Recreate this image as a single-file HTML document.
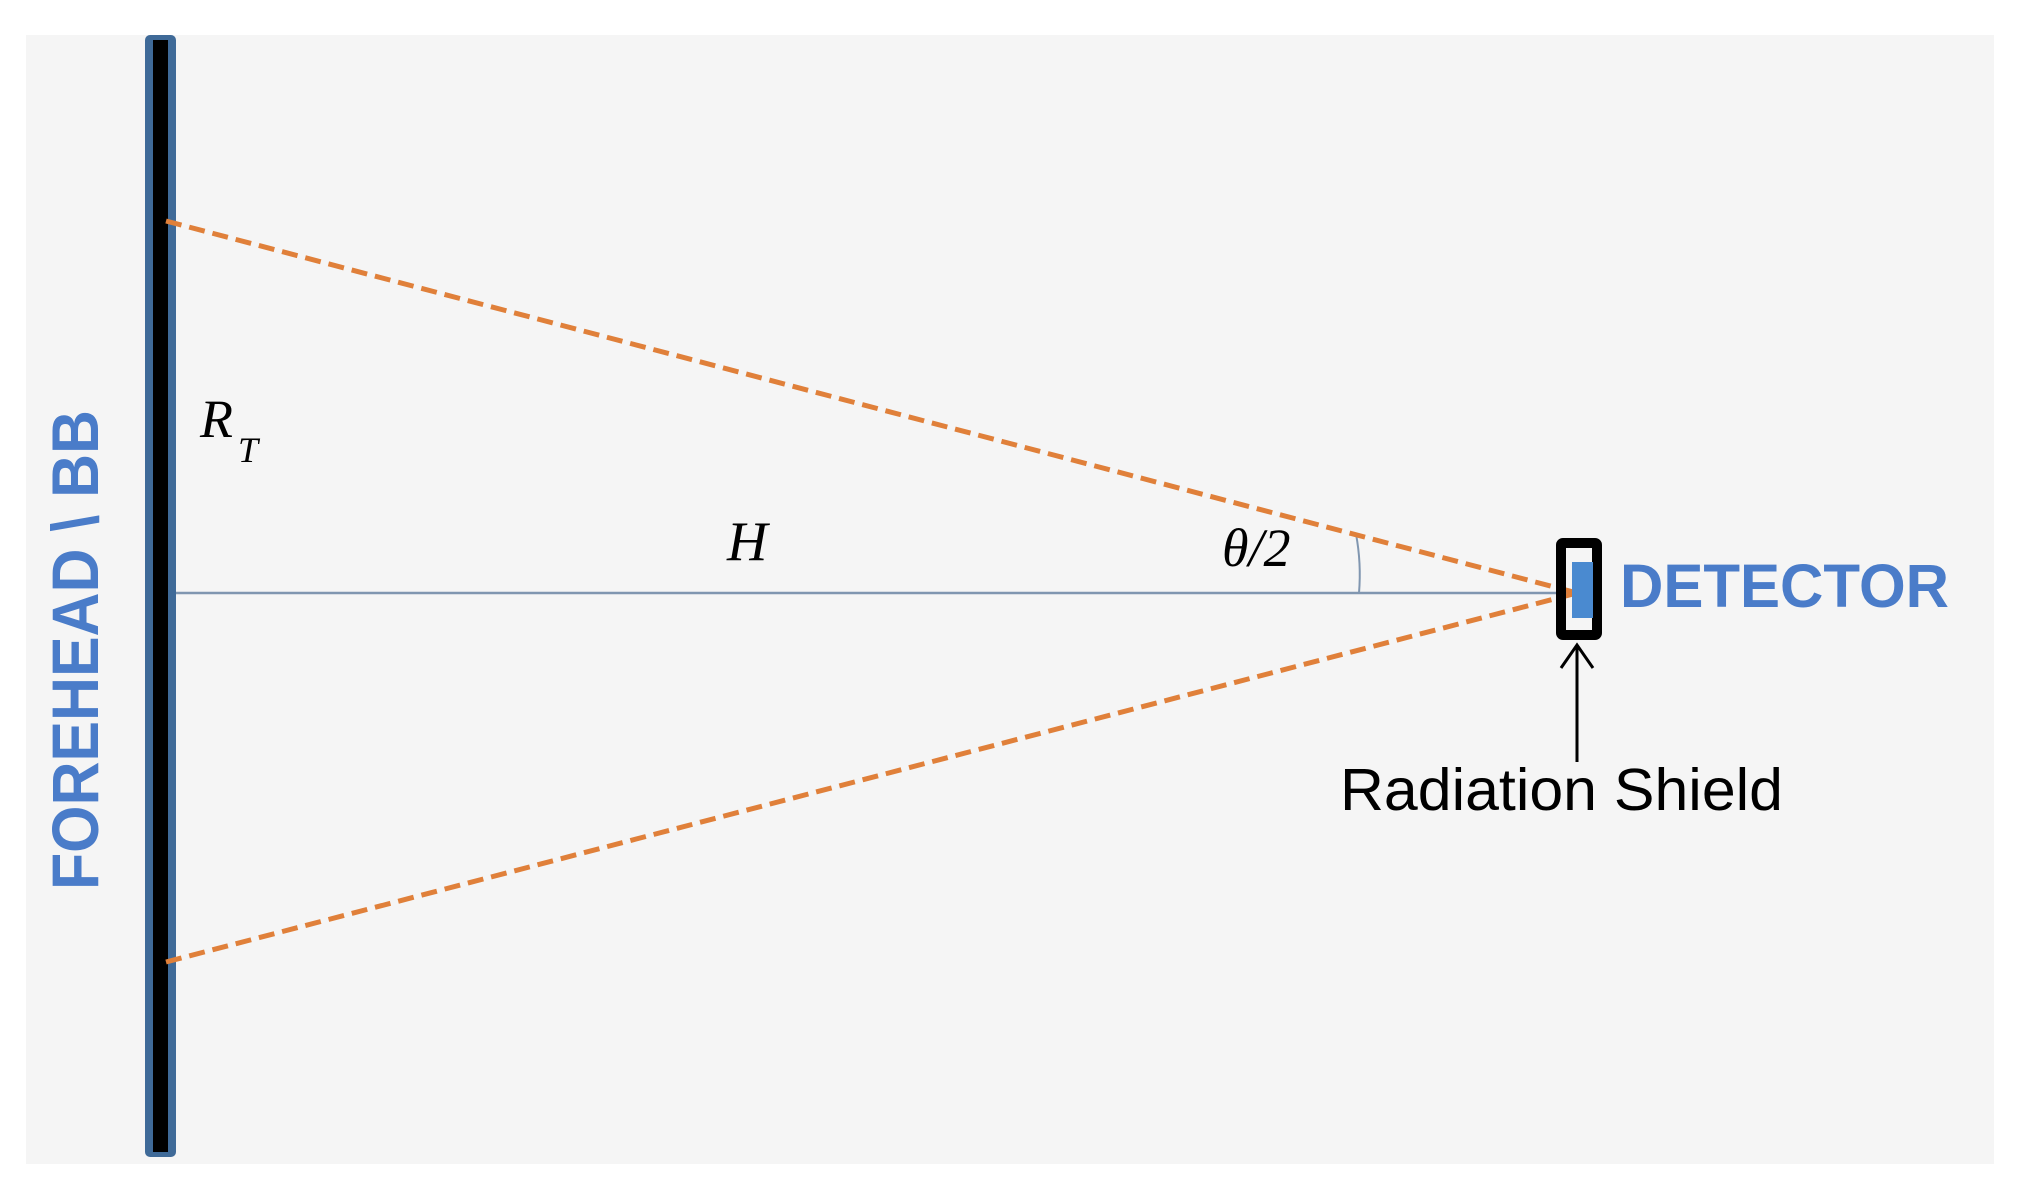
<!DOCTYPE html>
<html><head><style>html,body{margin:0;padding:0;background:#fff;}svg{display:block}</style></head>
<body>
<svg width="2028" height="1188" viewBox="0 0 2028 1188" xmlns="http://www.w3.org/2000/svg">
<rect x="26" y="35" width="1968" height="1129" fill="#f5f5f5"/>
<rect x="145" y="35" width="31" height="1122" rx="5" fill="#3f6a98"/>
<rect x="153" y="40" width="15" height="1112" fill="#000"/>
<line x1="176" y1="593" x2="1577" y2="593" stroke="#8096b0" stroke-width="2.5"/>
<path d="M1356,534 A221,221 0 0 1 1359,593" fill="none" stroke="#8096b0" stroke-width="2"/>
<line x1="166" y1="221" x2="1577" y2="593" stroke="#e0803a" stroke-width="5" stroke-dasharray="16,8"/>
<line x1="166" y1="962" x2="1577" y2="593" stroke="#e0803a" stroke-width="5" stroke-dasharray="16,8"/>
<rect x="1561" y="543" width="36" height="92" fill="none" stroke="#000" stroke-width="10" rx="2"/>
<rect x="1572" y="562" width="21" height="56" fill="#4a8ad0"/>
<line x1="1577" y1="645" x2="1577" y2="762" stroke="#000" stroke-width="3"/>
<polyline points="1561,668 1577,645 1593,668" fill="none" stroke="#000" stroke-width="3"/>
<text x="1620" y="607" font-family="Liberation Sans, sans-serif" font-weight="bold" font-size="61" fill="#4a7cc9" textLength="329" lengthAdjust="spacingAndGlyphs">DETECTOR</text>
<text x="1340" y="810" font-family="Liberation Sans, sans-serif" font-size="59" fill="#000" textLength="443" lengthAdjust="spacingAndGlyphs">Radiation Shield</text>
<text x="727" y="560" font-family="Liberation Serif, serif" font-style="italic" font-size="56" fill="#000">H</text>
<text x="1222" y="566" font-family="Liberation Serif, serif" font-style="italic" font-size="54" fill="#000">θ/2</text>
<text x="200" y="437" font-family="Liberation Serif, serif" font-style="italic" font-size="54" fill="#000">R</text>
<text x="238" y="462" font-family="Liberation Serif, serif" font-style="italic" font-size="36" fill="#000">T</text>
<text transform="translate(98,890) rotate(-90)" x="0" y="0" font-family="Liberation Sans, sans-serif" font-weight="bold" font-size="66" fill="#4a7cc9" textLength="480" lengthAdjust="spacingAndGlyphs">FOREHEAD \ BB</text>
</svg>
</body></html>
